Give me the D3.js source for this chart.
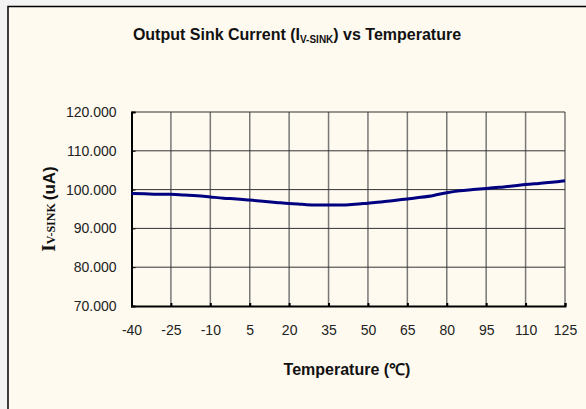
<!DOCTYPE html>
<html>
<head>
<meta charset="utf-8">
<script src="https://cdn.jsdelivr.net/npm/d3@7"></script>
<style>
html,body{margin:0;padding:0;background:#f3f3f3;}
svg{display:block;}
</style>
</head>
<body>
<svg id="chart" width="586" height="409"></svg>
<script>
const temps = [-40,-35,-30,-25,-20,-15,-10,-5,0,5,10,15,20,25,30,35,40,45,50,55,60,65,70,75,80,85,90,95,100,105,110,115,120,125];
const current = [99.0,98.9,98.8,98.8,98.6,98.4,98.1,97.8,97.6,97.3,97.0,96.7,96.4,96.2,96.0,96.0,96.0,96.2,96.5,96.8,97.2,97.6,98.0,98.5,99.2,99.7,100.0,100.3,100.6,100.9,101.3,101.6,101.9,102.3];
const xTicks = [-40,-25,-10,5,20,35,50,65,80,95,110,125];
const yTicks = [70,80,90,100,110,120];

const sans = "Liberation Sans, Arial, sans-serif";
const serif = "Liberation Serif, Times New Roman, serif";
const svg = d3.select("#chart");
svg.append("rect").attr("x",8).attr("y",6.5).attr("width",600).attr("height",420)
  .attr("fill","#fffaf0").attr("stroke","#000").attr("stroke-width",1.5);

const x = d3.scaleLinear().domain([-40,125]).range([131.5,565]);
const y = d3.scaleLinear().domain([70,120]).range([306,112]);

svg.append("g").selectAll("line").data(xTicks.slice(1)).join("line")
  .attr("x1",d=>x(d)).attr("x2",d=>x(d)).attr("y1",y(120)).attr("y2",y(70))
  .attr("stroke","#777").attr("stroke-width",1.5);
svg.append("g").selectAll("line").data(yTicks.slice(1)).join("line")
  .attr("x1",x(-40)).attr("x2",x(125)).attr("y1",d=>y(d)).attr("y2",d=>y(d))
  .attr("stroke","#333").attr("stroke-width",1);

const yAxis = svg.append("g").attr("transform",`translate(${x(-40)},0)`)
  .call(d3.axisLeft(y).tickValues(yTicks).tickFormat(d3.format(".3f")).tickSize(-4).tickPadding(15));
yAxis.select(".domain").attr("stroke","#000").attr("stroke-width",2);
yAxis.selectAll(".tick line").attr("stroke","#000");
yAxis.selectAll("text").attr("font-family",sans).attr("font-size",14).attr("fill","#222");

const xAxis = svg.append("g").attr("transform",`translate(0,${y(70)})`)
  .call(d3.axisBottom(x).tickValues(xTicks).tickFormat(d=>String(d)).tickSize(-3).tickPadding(19));
xAxis.select(".domain").attr("stroke","#000").attr("stroke-width",2);
xAxis.selectAll(".tick line").attr("stroke","#000").attr("stroke-width",2);
xAxis.selectAll("text").attr("font-family",sans).attr("font-size",14).attr("fill","#222");

const line = d3.line().x((d,i)=>x(temps[i])).y(d=>y(d)).curve(d3.curveMonotoneX);
svg.append("path").datum(current).attr("d",line).attr("fill","none")
  .attr("stroke","#000080").attr("stroke-width",3);

const title = svg.append("text").attr("x",297).attr("y",40).attr("text-anchor","middle")
  .attr("font-family",sans).attr("font-weight","bold").attr("font-size",16).attr("fill","#111");
title.append("tspan").text("Output Sink Current (I");
title.append("tspan").attr("font-size",10).attr("dy",3).text("V-SINK");
title.append("tspan").attr("dy",-3).text(") vs Temperature");

svg.append("text").attr("x",347).attr("y",375).attr("text-anchor","middle")
  .attr("font-family",sans).attr("font-weight","bold").attr("font-size",16).attr("fill","#111")
  .text("Temperature (℃)");

const yt = svg.append("text").attr("transform","translate(55,209) rotate(-90)").attr("text-anchor","middle")
  .attr("font-weight","bold").attr("fill","#111");
yt.append("tspan").attr("font-family",serif).attr("font-size",19).text("I");
yt.append("tspan").attr("font-family",serif).attr("font-size",12).text("V-SINK ");
yt.append("tspan").attr("font-family",sans).attr("font-size",17).text(" (uA)");
</script>
</body>
</html>
